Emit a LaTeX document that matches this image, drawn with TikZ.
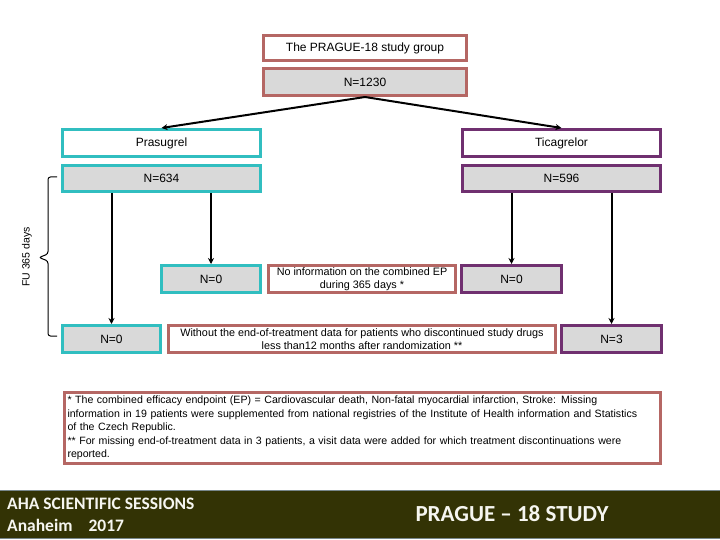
\documentclass[tikz,border=0pt]{standalone}
\usepackage{fontspec}
\setmainfont{Liberation Sans}
\newfontfamily\bannerfont{Carlito}
\usepackage{tikz}
\usetikzlibrary{arrows.meta,calc}
\definecolor{rosec}{RGB}{181,103,100}
\definecolor{tealc}{RGB}{49,190,192}
\definecolor{plumc}{RGB}{112,48,112}
\definecolor{boxgray}{RGB}{217,217,217}
\definecolor{bannerc}{RGB}{51,51,5}
\definecolor{bannerline}{RGB}{120,135,140}
\definecolor{bannertext}{RGB}{246,246,240}

\begin{document}
\begin{tikzpicture}[x=1pt,y=-1pt,
        box/.style={rectangle, line width=3pt, inner sep=0pt, minimum height=27pt, font=\fontsize{12}{14}\selectfont},
        numbox/.style={box, fill=boxgray},
        notebox/.style={box, draw=rosec, fill=white, align=center, font=\fontsize{10.8}{13.5}\selectfont},
        flow/.style={line width=2pt, -{Stealth[length=6pt,width=6pt]}},
        bannertxt/.style={inner sep=0pt, text=bannertext, font=\bannerfont\bfseries}]
        \useasboundingbox (0,0) rectangle (720,540);
        \node[box, draw=rosec, minimum width=203pt, minimum height=25pt] (study) at (365,48) {The PRAGUE-18 study group};
        \node[numbox, draw=rosec, minimum width=203pt] (total) at (365,82) {N=1230};
        \node[box, draw=tealc, minimum width=198pt] (prasu) at (161.5,143) {Prasugrel};
        \node[numbox, draw=tealc, minimum width=198pt, minimum height=26pt] (prasuN) at (161.5,178.5) {N=634};
        \node[box, draw=plumc, minimum width=198pt] (tica) at (561.5,143) {Ticagrelor};
        \node[numbox, draw=plumc, minimum width=198pt, minimum height=26pt] (ticaN) at (561.5,178.5) {N=596};
        \node[numbox, draw=tealc, minimum width=99pt] (pzeroA) at (211,279) {N=0};
        \node[notebox, minimum width=187pt] (noinfo) at (362,279) {No information on the combined EP\\during 365 days *};
        \node[numbox, draw=plumc, minimum width=100pt] (tzeroA) at (511.5,279) {N=0};
        \node[numbox, draw=tealc, minimum width=98pt] (pzeroB) at (111.5,339) {N=0};
        \node[notebox, minimum width=387pt] (without) at (362,339) {Without the end-of-treatment data for patients who discontinued study drugs\\less than12 months after randomization **};
        \node[numbox, draw=plumc, minimum width=100pt] (tthree) at (611.5,339) {N=3};
        \draw[flow] (total.south) -- (prasu.north);
        \draw[flow] (total.south) -- (tica.north);
        \draw[flow] (prasuN.south -| pzeroB) -- (pzeroB.north);
        \draw[flow] (prasuN.south -| pzeroA) -- (pzeroA.north);
        \draw[flow] (ticaN.south -| tzeroA) -- (tzeroA.north);
        \draw[flow] (ticaN.south -| tthree) -- (tthree.north);
        \coordinate (futop) at (57,177);
        \coordinate (fubot) at (57,336);
        \draw[line width=1pt, rounded corners=2.5pt] (futop) -- ++(-9,0) -- (48,254) -- (39,257.5) -- (48,261) -- (48,336) -- (fubot);
        \node[rotate=90, inner sep=0pt, font=\fontsize{10.5}{12}\selectfont] (fulabel) at (27,257) {FU 365 days};
        \node[box, draw=rosec, anchor=north, text width=590pt, inner xsep=3pt, inner ysep=4pt, minimum height=0pt, align=left, font=\fontsize{10.6}{13.5}\selectfont] (notes) at (362.5,390.5) {* The combined efficacy endpoint (EP) = Cardiovascular death, Non-fatal myocardial infarction, Stroke: Missing\\information in 19 patients were supplemented from national registries of the Institute of Health information and Statistics\\of the Czech Republic.\\{}** For missing end-of-treatment data in 3 patients, a visit data were added for which treatment discontinuations were\\reported.};
        \draw[bannerline, fill=bannerc, line width=1pt] (-2,490) rectangle (722,538.5);
        \node[bannertxt, anchor=west, font=\bannerfont\bfseries\fontsize{17.5}{19}\selectfont] (aha) at (7,504) {AHA SCIENTIFIC SESSIONS};
        \node[bannertxt, anchor=west, font=\bannerfont\bfseries\fontsize{17.5}{19}\selectfont] (anaheim) at (7,525) {Anaheim\hspace{16pt}2017};
        \node[bannertxt, font=\bannerfont\bfseries\fontsize{23}{25}\selectfont] (prague) at (512,514) {PRAGUE – 18 STUDY};
    \end{tikzpicture}
\end{document}
